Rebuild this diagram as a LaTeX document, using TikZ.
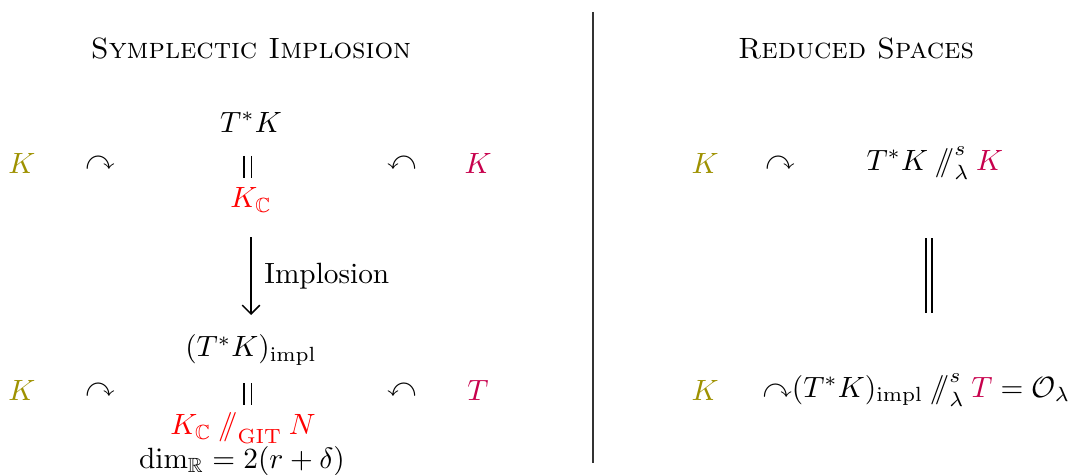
\documentclass[tikz,border=0pt]{standalone}
\usepackage{amsmath,amssymb}
\usetikzlibrary{arrows.meta}
\definecolor{kol}{rgb}{0.62,0.57,0.0}
\definecolor{kpur}{rgb}{0.78,0.0,0.30}
\definecolor{kred}{rgb}{1,0,0}
\newcommand{\mysl}{\mathbin{/\mkern-6mu/}}
\begin{document}
\begin{tikzpicture}[x=0.341pt,y=-0.341pt,
  lbl/.style={inner sep=1pt},
  eqline/.style={line width=0.4pt}]
\useasboundingbox (0,0) rectangle (1069,475);
% titles
\node[lbl] (tl) at (251,48) {\textsc{Symplectic Implosion}};
\node[lbl] (tr) at (856,48) {\textsc{Reduced Spaces}};
\coordinate (sepa) at (593,12);
\coordinate (sepb) at (593,463);
\draw[line width=0.35pt,black!80] (sepa) -- (sepb);
% left upper
\node[lbl] (tk) at (251,122) {$T^*K$};
\node[lbl,text=kol] (k1) at (22,163) {$K$};
\node[lbl] (a1) at (100,163) {$\curvearrowright$};
\coordinate (e1a) at (244,156); \coordinate (e1b) at (244,178);
\coordinate (e1c) at (251.5,156); \coordinate (e1d) at (251.5,178);
\draw[eqline] (e1a) -- (e1b) (e1c) -- (e1d);
\node[lbl] (b1) at (402,163) {$\curvearrowleft$};
\node[lbl,text=kpur] (k2) at (478,163) {$K$};
\node[lbl,text=kred] (kc) at (251,200) {$K_{\mathbb{C}}$};
% arrow
\coordinate (ar1) at (251,237);
\coordinate (ar2) at (251,315);
\draw[line width=0.5pt,-{Straight Barb[length=3pt,width=6pt]}] (ar1) -- (ar2) node[midway,right=1pt] (imp) {Implosion};
% left lower
\node[lbl] (tki) at (251,350) {$(T^*K)_{\mathrm{impl}}$};
\node[lbl,text=kol] (k3) at (22,390) {$K$};
\node[lbl] (a2) at (100,390) {$\curvearrowright$};
\coordinate (e2a) at (244,383); \coordinate (e2b) at (244,405);
\coordinate (e2c) at (251.5,383); \coordinate (e2d) at (251.5,405);
\draw[eqline] (e2a) -- (e2b) (e2c) -- (e2d);
\node[lbl] (b2) at (402,390) {$\curvearrowleft$};
\node[lbl,text=kpur] (t1) at (478,390) {$T$};
\node[lbl,text=kred] (git) at (243,428) {$K_{\mathbb{C}}\mysl_{\mathrm{GIT}} N$};
\node[lbl] (dim) at (242,461) {$\dim_{\mathbb{R}} = 2(r+\delta)$};
% right
\node[lbl,text=kol] (k4) at (705,163) {$K$};
\node[lbl] (a3) at (780,163) {$\curvearrowright$};
\node[lbl,anchor=west] (red1) at (863,163) {$T^*K\mysl^{s}_{\lambda}{\color{kpur}K}$};
\coordinate (d1) at (926,238);
\coordinate (d2) at (926,313);
\coordinate (d3) at (932,238);
\coordinate (d4) at (932,313);
\draw[line width=0.4pt] (d1) -- (d2) (d3) -- (d4);
\node[lbl,text=kol] (k5) at (705,390) {$K$};
\node[lbl,anchor=west] (red2) at (759,390) {${\curvearrowright}(T^*K)_{\mathrm{impl}}\mysl^{s}_{\lambda}{\color{kpur}T}=\mathcal{O}_{\lambda}$};
\end{tikzpicture}
\end{document}
